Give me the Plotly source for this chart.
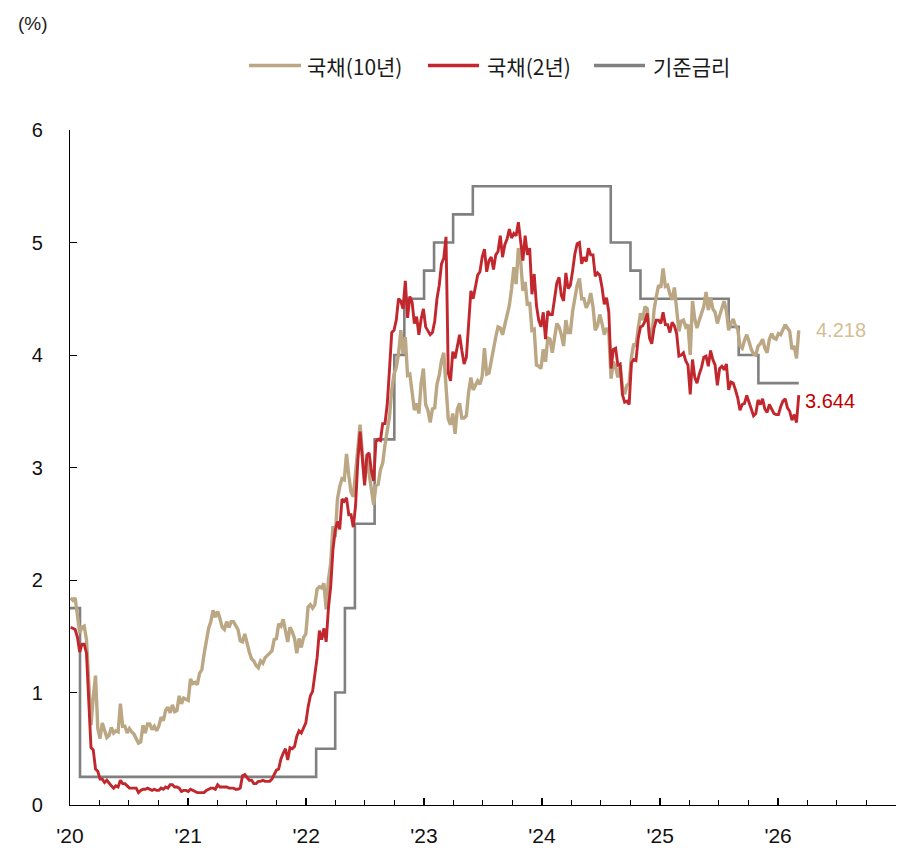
import pandas as pd
import plotly.graph_objects as go

# ---------------- data (weekly Friday closes) ----------------
first_friday = "2020-01-03"

# US Treasury 10Y (%)
y10_2020 = [1.84, 1.82, 1.84, 1.68, 1.53,
            1.58, 1.59, 1.47, 1.13,
            0.71, 0.96, 1.15, 0.68,
            0.59, 0.73, 0.65, 0.60,
            0.62, 0.69, 0.64, 0.66, 0.65,
            0.90, 0.70, 0.70, 0.64,
            0.68, 0.65, 0.63, 0.59, 0.55,
            0.56, 0.71, 0.64, 0.72,
            0.72, 0.67, 0.70, 0.66,
            0.70, 0.78, 0.75, 0.84, 0.87,
            0.82, 0.89, 0.83, 0.84,
            0.97, 0.90, 0.95, 0.94]
y10_2021 = [0.93, 1.12, 1.08, 1.09, 1.07,
            1.17, 1.20, 1.34, 1.44,
            1.57, 1.63, 1.73, 1.67,
            1.72, 1.66, 1.58, 1.56, 1.63,
            1.58, 1.63, 1.63, 1.59,
            1.56, 1.46, 1.45, 1.52,
            1.43, 1.36, 1.30, 1.28, 1.24,
            1.22, 1.28, 1.26, 1.31,
            1.33, 1.34, 1.37, 1.47,
            1.48, 1.61, 1.59, 1.65, 1.55,
            1.45, 1.58, 1.54, 1.48,
            1.35, 1.48, 1.40, 1.49, 1.52]
y10_2022 = [1.76, 1.78, 1.75, 1.78,
            1.92, 1.94, 1.93, 1.97,
            1.74, 2.00, 2.15, 2.48,
            2.38, 2.72, 2.83, 2.90, 2.89,
            3.12, 2.93, 2.78, 2.74,
            2.94, 3.18, 3.38, 3.13,
            2.88, 3.08, 2.93, 2.78, 2.67,
            2.84, 2.85, 2.98, 3.04,
            3.20, 3.32, 3.45, 3.69, 3.83,
            3.89, 4.01, 4.22, 4.01,
            4.16, 3.82, 3.83, 3.68,
            3.51, 3.57, 3.48, 3.75, 3.88]
y10_2023 = [3.56, 3.51, 3.40, 3.52,
            3.53, 3.74, 3.82, 3.95,
            4.02, 3.70, 3.43, 3.38, 3.48,
            3.30, 3.52, 3.57, 3.44,
            3.44, 3.46, 3.67, 3.80,
            3.69, 3.74, 3.77, 3.74, 3.81,
            4.06, 3.83, 3.84, 3.96,
            4.05, 4.16, 4.25, 4.24,
            4.18, 4.26, 4.33, 4.44, 4.59,
            4.78, 4.63, 4.95, 4.84,
            4.57, 4.65, 4.44, 4.47,
            4.22, 4.23, 3.91, 3.90, 3.88]
y10_2024 = [4.05, 3.94, 4.15, 4.14,
            4.02, 4.18, 4.28, 4.25,
            4.18, 4.08, 4.31, 4.20, 4.20,
            4.39, 4.50, 4.62, 4.68,
            4.50, 4.50, 4.42, 4.46, 4.55,
            4.43, 4.22, 4.26, 4.36,
            4.28, 4.18, 4.24, 4.20,
            3.79, 3.94, 3.89, 3.80, 3.91,
            3.72, 3.65, 3.73, 3.75,
            3.98, 4.10, 4.08, 4.24,
            4.37, 4.31, 4.43, 4.41, 4.18,
            4.15, 4.40, 4.52, 4.62]
y10_2025 = [4.60, 4.77, 4.61, 4.62, 4.54,
            4.49, 4.60, 4.43, 4.21,
            4.30, 4.31, 4.25, 4.27,
            4.00, 4.48, 4.32, 4.24,
            4.31, 4.38, 4.43, 4.56, 4.40,
            4.51, 4.41, 4.38, 4.28,
            4.35, 4.41, 4.48, 4.39,
            4.22, 4.28, 4.32, 4.26, 4.23,
            4.08, 4.06, 4.13, 4.18,
            4.12, 4.05, 4.01, 4.00, 4.08,
            4.10, 4.14, 4.06, 4.02,
            4.14, 4.19, 4.15, 4.14]
y10_2026 = [4.19, 4.18, 4.23, 4.27, 4.24,
            4.21, 4.05, 4.08, 3.97,
            4.218]

# US Treasury 2Y (%)
y2_2020 = [1.58, 1.57, 1.56, 1.49, 1.36,
           1.43, 1.43, 1.35, 0.92,
           0.51, 0.49, 0.32, 0.30,
           0.23, 0.23, 0.20, 0.22,
           0.19, 0.17, 0.15, 0.17, 0.16,
           0.22, 0.19, 0.19, 0.17,
           0.15, 0.15, 0.15, 0.15, 0.11,
           0.13, 0.14, 0.14, 0.15,
           0.14, 0.13, 0.14, 0.13,
           0.13, 0.15, 0.14, 0.16, 0.15,
           0.18, 0.18, 0.16, 0.16,
           0.15, 0.12, 0.13, 0.13]
y2_2021 = [0.12, 0.14, 0.13, 0.12, 0.11,
           0.11, 0.11, 0.11, 0.13,
           0.14, 0.15, 0.15, 0.14,
           0.18, 0.16, 0.16, 0.16, 0.16,
           0.15, 0.15, 0.15, 0.14,
           0.14, 0.15, 0.26, 0.27,
           0.24, 0.22, 0.22, 0.19, 0.19,
           0.21, 0.21, 0.22, 0.21,
           0.21, 0.21, 0.23, 0.27,
           0.31, 0.32, 0.41, 0.46, 0.50,
           0.40, 0.51, 0.50, 0.52,
           0.61, 0.66, 0.64, 0.69, 0.73]
y2_2022 = [0.87, 0.97, 1.01, 1.18,
           1.31, 1.55, 1.47, 1.57,
           1.45, 1.75, 1.94, 2.27,
           2.44, 2.52, 2.45, 2.72, 2.70,
           2.73, 2.58, 2.58, 2.47,
           2.66, 3.06, 3.32, 3.05,
           2.84, 3.11, 3.13, 2.97, 2.88,
           3.23, 3.25, 3.24, 3.39,
           3.39, 3.56, 3.87, 4.20, 4.22,
           4.31, 4.50, 4.48, 4.41,
           4.66, 4.33, 4.52, 4.47,
           4.28, 4.34, 4.18, 4.32, 4.41]
y2_2023 = [4.25, 4.22, 4.18, 4.20,
           4.30, 4.50, 4.62, 4.81,
           4.86, 5.05, 3.84, 3.77, 4.03,
           3.97, 4.09, 4.18, 4.04,
           3.92, 3.98, 4.28, 4.57,
           4.50, 4.61, 4.71, 4.74, 4.87,
           4.94, 4.74, 4.84, 4.87,
           4.76, 4.89, 4.92, 5.06,
           4.87, 4.98, 5.03, 5.12, 5.04,
           5.08, 5.06, 5.18, 5.01,
           4.84, 5.06, 4.89, 4.95,
           4.54, 4.72, 4.44, 4.31, 4.25]
y2_2024 = [4.38, 4.14, 4.39, 4.36,
           4.36, 4.48, 4.64, 4.69,
           4.53, 4.48, 4.73, 4.59, 4.62,
           4.75, 4.90, 4.99, 5.00,
           4.81, 4.87, 4.83, 4.95, 4.89,
           4.89, 4.70, 4.73, 4.71,
           4.60, 4.45, 4.51, 4.38,
           3.88, 4.05, 4.06, 3.91, 3.92,
           3.65, 3.58, 3.59, 3.56,
           3.93, 3.96, 3.95, 4.15,
           4.25, 4.26, 4.30, 4.37, 4.15,
           4.10, 4.24, 4.31, 4.31]
y2_2025 = [4.28, 4.38, 4.27, 4.27, 4.20,
           4.29, 4.26, 4.19, 3.99,
           4.00, 4.02, 3.95, 3.91,
           3.65, 3.96, 3.80, 3.75,
           3.83, 3.89, 3.98, 3.99, 3.90,
           4.04, 3.96, 3.91, 3.73,
           3.88, 3.90, 3.87, 3.92,
           3.69, 3.76, 3.75, 3.69, 3.62,
           3.51, 3.56, 3.57, 3.64,
           3.58, 3.51, 3.46, 3.48, 3.60,
           3.56, 3.61, 3.52, 3.49,
           3.56, 3.52, 3.48, 3.47]
y2_2026 = [3.47, 3.54, 3.59, 3.61, 3.53,
           3.50, 3.42, 3.47, 3.40,
           3.644]

# Policy rate (step changes as drawn)
ff_dates = ["2020-01-01", "2020-02-01", "2022-02-01", "2022-04-01", "2022-05-01",
            "2022-06-01", "2022-08-01", "2022-10-01", "2022-11-01", "2023-01-01",
            "2023-02-01", "2023-04-01", "2023-06-01", "2024-08-01", "2024-10-01",
            "2024-11-01", "2025-08-01", "2025-09-01", "2025-11-01", "2026-03-06"]
ff_values = [1.75, 0.25, 0.50, 1.00, 1.75,
             2.50, 3.25, 4.00, 4.50, 4.75,
             5.00, 5.25, 5.50, 5.00, 4.75,
             4.50, 4.25, 4.00, 3.75, 3.75]

year_ticks = ["2020-01-01", "2021-01-01", "2022-01-01", "2023-01-01",
              "2024-01-01", "2025-01-01", "2026-01-01", "2027-01-01"]
year_labels = ["'20", "'21", "'22", "'23", "'24", "'25", "'26", ""]

names = ["국채(10년)", "국채(2년)", "기준금리"]
colors = ["#BBA784", "#C1272D", "#808080"]

y10 = y10_2020 + y10_2021 + y10_2022 + y10_2023 + y10_2024 + y10_2025 + y10_2026
y2 = y2_2020 + y2_2021 + y2_2022 + y2_2023 + y2_2024 + y2_2025 + y2_2026
assert len(y10) == len(y2), (len(y10), len(y2))
dates = pd.date_range(first_friday, periods=len(y10), freq="W-FRI")

# ---------------- figure ----------------
W, H = 901, 852
ML, MR, MT, MB = 70, 5, 130, 42
PW, PH = W - ML - MR, H - MT - MB


def px(x):
    return (x - ML) / PW


def py(y):
    return (H - MB - y) / PH


fig = go.Figure()
fig.add_trace(go.Scatter(x=pd.to_datetime(ff_dates), y=ff_values, mode="lines",
                         line=dict(color=colors[2], width=2.6, shape="hv"),
                         name=names[2], showlegend=False))
fig.add_trace(go.Scatter(x=dates, y=y10, mode="lines",
                         line=dict(color=colors[0], width=3.4),
                         name=names[0], showlegend=False))
fig.add_trace(go.Scatter(x=dates, y=y2, mode="lines",
                         line=dict(color=colors[1], width=2.9),
                         name=names[1], showlegend=False))

tick_font = dict(family="Liberation Sans Narrow, Arial Narrow, Liberation Sans, Arial", size=21, color="#111")

fig.update_layout(
    width=W, height=H,
    margin=dict(l=ML, r=MR, t=MT, b=MB),
    paper_bgcolor="white", plot_bgcolor="white",
    showlegend=False,
    xaxis=dict(
        type="date", range=["2020-01-01", "2027-01-01"],
        tickmode="array", tickvals=year_ticks, ticktext=year_labels,
        ticks="inside", ticklen=7, tickwidth=1.5, tickcolor="#000",
        minor=dict(ticks="inside", ticklen=5, tickwidth=1, tickcolor="#000",
                   dtick="M3", tick0="2020-01-01", showgrid=False),
        showline=True, linecolor="#000", linewidth=1.2,
        showgrid=False, zeroline=False,
        tickfont=tick_font, ticklabelstandoff=12,
    ),
    yaxis=dict(
        range=[0, 6], dtick=1, tick0=0,
        ticks="inside", ticklen=7, tickwidth=1, tickcolor="#000",
        showline=True, linecolor="#000", linewidth=1.2,
        showgrid=False, zeroline=False,
        tickfont=dict(family="Liberation Sans, Arial", size=20, color="#111"),
        ticklabelstandoff=22,
    ),
)

# unit label
fig.add_annotation(xref="paper", yref="paper", x=px(16), y=py(23), text="(%)",
                   showarrow=False, xanchor="left", yanchor="middle",
                   font=dict(family="Liberation Sans, Arial", size=19, color="#222"))

# custom legend
leg_y = 65
leg_items = [(249, 301, 305), (428, 479, 485), (594, 645, 651)]
for (x0, x1, xt), nm, col in zip(leg_items, names, colors):
    fig.add_shape(type="line", xref="paper", yref="paper",
                  x0=px(x0), x1=px(x1), y0=py(leg_y), y1=py(leg_y),
                  line=dict(color=col, width=3.5))
    fig.add_annotation(xref="paper", yref="paper", x=px(xt), y=py(leg_y + 1), text=nm,
                       showarrow=False, xanchor="left", yanchor="middle",
                       font=dict(family="Noto Sans CJK KR", size=21, color="#1a1a1a"))

# end-value labels
fig.add_annotation(x=dates[-1], y=y10[-1], text=f"{y10[-1]:.3f}", showarrow=False,
                   xanchor="left", yanchor="middle", xshift=15, yshift=0,
                   font=dict(family="Liberation Sans, Arial", size=20, color="#D4BE93"))
fig.add_annotation(x=dates[-1], y=y2[-1], text=f"{y2[-1]:.3f}", showarrow=False,
                   xanchor="left", yanchor="middle", xshift=4, yshift=-6,
                   font=dict(family="Liberation Sans, Arial", size=20, color="#C00000"))

fig.write_html("out.html")
